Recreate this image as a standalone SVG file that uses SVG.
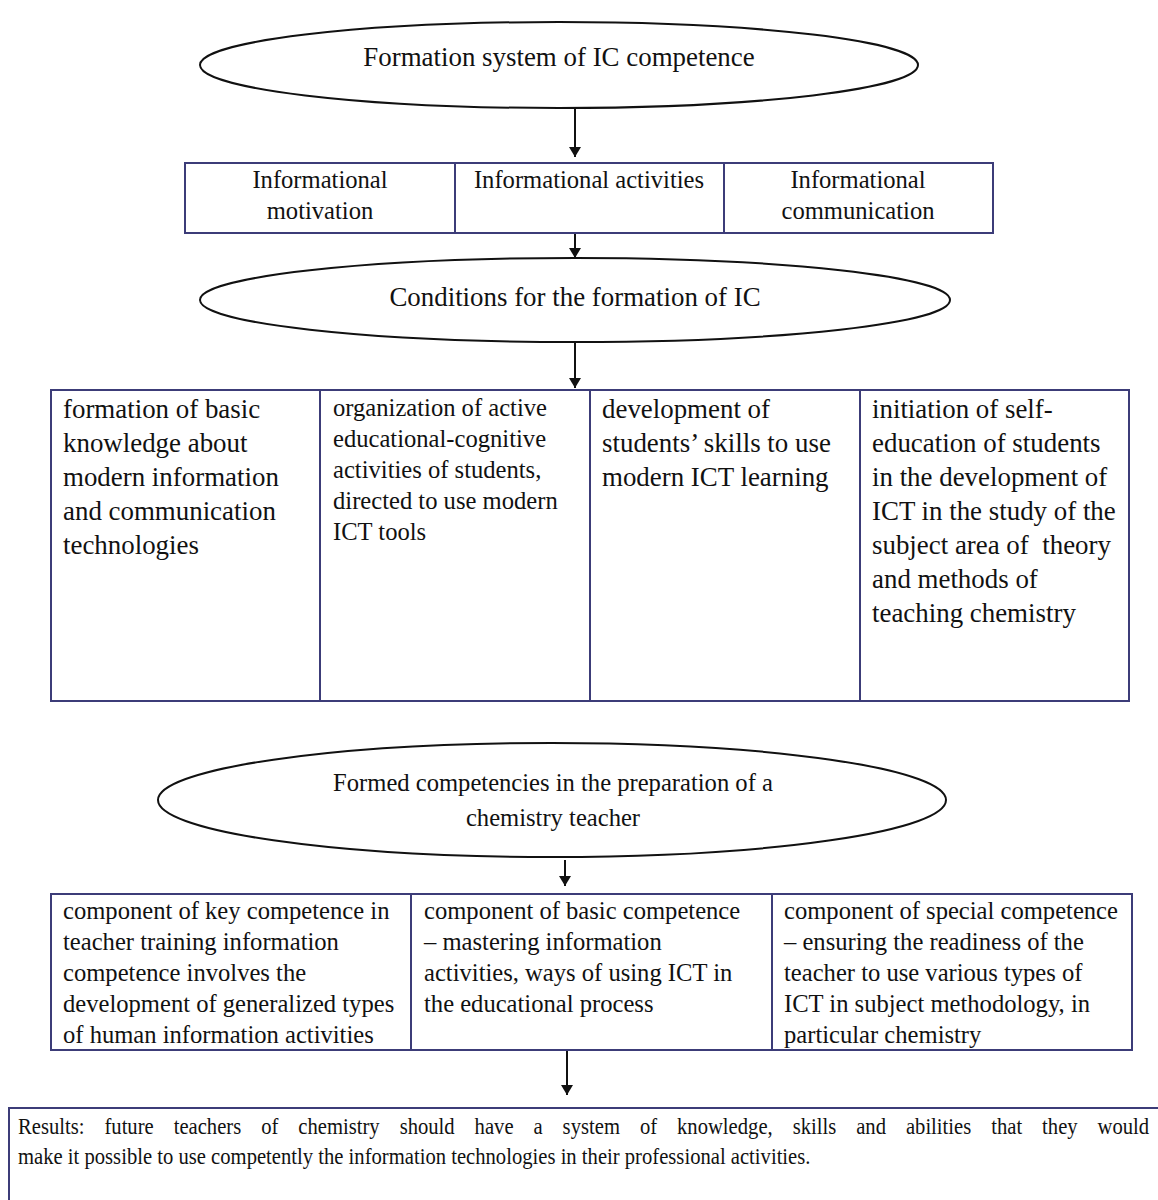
<svg xmlns="http://www.w3.org/2000/svg" width="1158" height="1200" viewBox="0 0 1158 1200">
<style>
text{font-family:"Liberation Serif","Times New Roman",serif;fill:#111}
.el{fill:#fff;stroke:#111;stroke-width:2}
.bx{fill:#fff;stroke:#3c3c78;stroke-width:2}
.dv{stroke:#3c3c78;stroke-width:2}
.c{text-anchor:middle}
.s24{font-size:24.6px}
.s27{font-size:26.9px}
.sr{font-size:24px}
.cn{stroke:#111;stroke-width:2;fill:none}
</style>
<defs>
<marker id="ah" viewBox="0 0 10 12" refX="10" refY="6" markerWidth="5" markerHeight="6.5" markerUnits="strokeWidth" orient="auto">
<path d="M0,0 L10,6 L0,12 Z" fill="#111"/>
</marker>
</defs>
<rect width="1158" height="1200" fill="#fff"/>
<g id="connectors">
<line class="cn" x1="575" y1="108" x2="575" y2="157" marker-end="url(#ah)"/>
<line class="cn" x1="575" y1="234" x2="575" y2="258" marker-end="url(#ah)"/>
<line class="cn" x1="575" y1="342" x2="575" y2="388" marker-end="url(#ah)"/>
<line class="cn" x1="565" y1="860" x2="565" y2="886" marker-end="url(#ah)"/>
<line class="cn" x1="567" y1="1051" x2="567" y2="1095" marker-end="url(#ah)"/>
</g>
<g id="n-formation-system">
<ellipse class="el" cx="559" cy="65" rx="359" ry="43"/>
<text class="c s27" x="559" y="66">Formation system of IC competence</text>
</g>
<g id="n-components">
<rect class="bx" x="185" y="163" width="808" height="70"/>
<line class="dv" x1="455" y1="163" x2="455" y2="233"/>
<line class="dv" x1="724" y1="163" x2="724" y2="233"/>
<text class="c s24" x="320" y="188">Informational</text>
<text class="c s24" x="320" y="219">motivation</text>
<text class="c s24" x="589" y="188">Informational activities</text>
<text class="c s24" x="858" y="188">Informational</text>
<text class="c s24" x="858" y="219">communication</text>
</g>
<g id="n-conditions">
<ellipse class="el" cx="575" cy="300" rx="375" ry="42"/>
<text class="c s27" x="575" y="306">Conditions for the formation of IC</text>
</g>
<g id="n-conditions-table">
<rect class="bx" x="51" y="390" width="1078" height="311"/>
<line class="dv" x1="320" y1="390" x2="320" y2="701"/>
<line class="dv" x1="590" y1="390" x2="590" y2="701"/>
<line class="dv" x1="860" y1="390" x2="860" y2="701"/>
<text class="s27" x="63" y="418">formation of basic</text>
<text class="s27" x="63" y="452">knowledge about</text>
<text class="s27" x="63" y="486">modern information</text>
<text class="s27" x="63" y="520">and communication</text>
<text class="s27" x="63" y="554">technologies</text>
<text class="s24" x="333" y="416">organization of active</text>
<text class="s24" x="333" y="447">educational-cognitive</text>
<text class="s24" x="333" y="478">activities of students,</text>
<text class="s24" x="333" y="509">directed to use modern</text>
<text class="s24" x="333" y="540">ICT tools</text>
<text class="s27" x="602" y="418">development of</text>
<text class="s27" x="602" y="452">students’ skills to use</text>
<text class="s27" x="602" y="486">modern ICT learning</text>
<text class="s27" x="872" y="418">initiation of self-</text>
<text class="s27" x="872" y="452">education of students</text>
<text class="s27" x="872" y="486">in the development of</text>
<text class="s27" x="872" y="520">ICT in the study of the</text>
<text class="s27" x="872" y="554" xml:space="preserve">subject area of  theory</text>
<text class="s27" x="872" y="588">and methods of</text>
<text class="s27" x="872" y="622">teaching chemistry</text>
</g>
<g id="n-formed-competencies">
<ellipse class="el" cx="552" cy="800" rx="394" ry="57"/>
<text class="c s24" x="553" y="791">Formed competencies in the preparation of a</text>
<text class="c s24" x="553" y="826">chemistry teacher</text>
</g>
<g id="n-competence-table">
<rect class="bx" x="51" y="894" width="1081" height="156"/>
<line class="dv" x1="411" y1="894" x2="411" y2="1050"/>
<line class="dv" x1="772" y1="894" x2="772" y2="1050"/>
<text class="s24" x="63" y="919">component of key competence in</text>
<text class="s24" x="63" y="950">teacher training information</text>
<text class="s24" x="63" y="981">competence involves the</text>
<text class="s24" x="63" y="1012">development of generalized types</text>
<text class="s24" x="63" y="1043">of human information activities</text>
<text class="s24" x="424" y="919">component of basic competence</text>
<text class="s24" x="424" y="950">– mastering information</text>
<text class="s24" x="424" y="981">activities, ways of using ICT in</text>
<text class="s24" x="424" y="1012">the educational process</text>
<text class="s24" x="784" y="919">component of special competence</text>
<text class="s24" x="784" y="950">– ensuring the readiness of the</text>
<text class="s24" x="784" y="981">teacher to use various types of</text>
<text class="s24" x="784" y="1012">ICT in subject methodology, in</text>
<text class="s24" x="784" y="1043">particular chemistry</text>
</g>
<g id="n-results">
<rect class="bx" x="9" y="1108" width="1160" height="110"/>
<g transform="translate(18,0) scale(0.86,1)">
<text class="sr" x="0" y="1134" word-spacing="17.2">Results: future teachers of chemistry should have a system of knowledge, skills and abilities that they would</text>
<text class="sr" x="0" y="1164">make it possible to use competently the information technologies in their professional activities.</text>
</g>
</g>
</svg>
